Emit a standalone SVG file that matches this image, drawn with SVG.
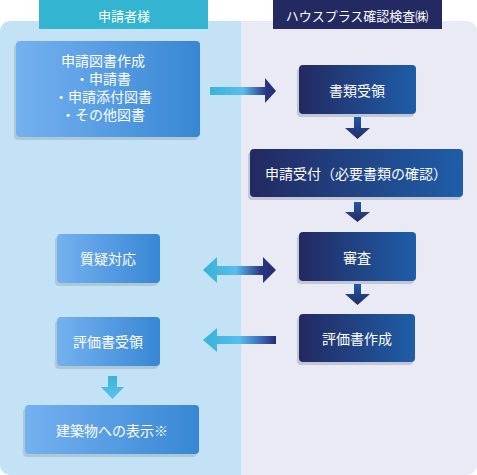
<svg xmlns="http://www.w3.org/2000/svg" width="477" height="475" viewBox="0 0 477 475">
<defs>
<linearGradient id="gLight" x1="0" y1="0" x2="1" y2="0"><stop offset="0" stop-color="#75b1f0"/><stop offset="1" stop-color="#3787d4"/></linearGradient>
<linearGradient id="gDark" x1="0" y1="0" x2="1" y2="0"><stop offset="0" stop-color="#232961"/><stop offset="1" stop-color="#1e5ea8"/></linearGradient>
<linearGradient id="gDown" x1="0" y1="0" x2="0" y2="1"><stop offset="0" stop-color="#1f5aa6"/><stop offset="1" stop-color="#232a63"/></linearGradient>
<linearGradient id="gCyanDown" x1="0" y1="0" x2="0" y2="1"><stop offset="0" stop-color="#3ab3d6"/><stop offset="1" stop-color="#5bc3ec"/></linearGradient>
<linearGradient id="gRight" gradientUnits="userSpaceOnUse" x1="210" y1="0" x2="276" y2="0"><stop offset="0" stop-color="#3ab3d6"/><stop offset="0.5" stop-color="#58bdee"/><stop offset="0.85" stop-color="#293585"/><stop offset="1" stop-color="#252c6e"/></linearGradient>
<linearGradient id="gBoth" gradientUnits="userSpaceOnUse" x1="203" y1="0" x2="276" y2="0"><stop offset="0" stop-color="#38b2d4"/><stop offset="0.45" stop-color="#58bdee"/><stop offset="0.8" stop-color="#293585"/><stop offset="1" stop-color="#252c6e"/></linearGradient>
<linearGradient id="gLeft" gradientUnits="userSpaceOnUse" x1="203" y1="0" x2="276" y2="0"><stop offset="0" stop-color="#38b2d4"/><stop offset="0.5" stop-color="#58bdee"/><stop offset="0.8" stop-color="#3a66b8"/><stop offset="1" stop-color="#252c6e"/></linearGradient>
<clipPath id="panel"><rect x="0" y="21" width="477" height="454" rx="10"/></clipPath>
</defs>
<style>
.t{font-family:"Noto Sans CJK JP","Noto Sans",sans-serif;fill:#fff;text-anchor:middle;dominant-baseline:central;font-size:14px}
.h{font-size:13px}
.shL{fill:#aec8d8}
.shR{fill:#c3c6d6}
</style>
<g id="background" clip-path="url(#panel)">
<rect x="0" y="21" width="241" height="454" fill="#c3e2f5"/>
<rect x="241" y="21" width="236" height="454" fill="#e9eaf4"/>
</g>
<g id="header-applicant">
<rect x="39" y="0" width="169" height="29" fill="#33b4d0"/>
<text class="t h" x="124" y="15">申請者様</text>
</g>
<g id="header-houseplus">
<rect x="273" y="0" width="169" height="29" fill="#232961"/>
<text class="t h" x="357" y="15">ハウスプラス確認検査㈱</text>
</g>
<g id="connectors">
<path d="M210 87H265V78L276 91L265 103V95H210Z" fill="url(#gRight)"/>
<path d="M354 117H361V128H370L357.5 139L345 128H354Z" fill="url(#gDown)"/>
<path d="M354 202H361V212H370L357.5 222L345 212H354Z" fill="url(#gDown)"/>
<path d="M354 284H361V294H370L357.5 305L345 294H354Z" fill="url(#gDown)"/>
<path d="M203 270L217 257V266H263V257L276 270L263 283V275H217V283Z" fill="url(#gBoth)"/>
<path d="M203 340L217 328V336H276V344H217V352Z" fill="url(#gLeft)"/>
<path d="M108 376H117V387H124L112.5 399L101 387H108Z" fill="url(#gCyanDown)"/>
</g>
<g id="node-create">
<rect class="shL" x="14" y="44" width="184" height="96" rx="4"/>
<rect x="16" y="41" width="184" height="96" rx="4" fill="url(#gLight)"/>
<text class="t" x="103" y="60">申請図書作成</text>
<text class="t" x="103" y="78">・申請書</text>
<text class="t" x="103" y="96">・申請添付図書</text>
<text class="t" x="103" y="114">・その他図書</text>
</g>
<g id="node-receive">
<rect class="shR" x="297" y="68" width="117" height="49" rx="4"/>
<rect x="299" y="65" width="117" height="49" rx="4" fill="url(#gDark)"/>
<text class="t" x="357" y="90">書類受領</text>
</g>
<g id="node-accept">
<rect class="shR" x="248" y="152" width="213" height="48" rx="4"/>
<rect x="250" y="149" width="213" height="48" rx="4" fill="url(#gDark)"/>
<text class="t" x="356" y="173">申請受付（必要書類の確認）</text>
</g>
<g id="node-review">
<rect class="shR" x="297" y="235" width="117" height="49" rx="4"/>
<rect x="299" y="232" width="117" height="49" rx="4" fill="url(#gDark)"/>
<text class="t" x="357" y="257">審査</text>
</g>
<g id="node-report">
<rect class="shR" x="297" y="317" width="116" height="48" rx="4"/>
<rect x="299" y="314" width="116" height="48" rx="4" fill="url(#gDark)"/>
<text class="t" x="357" y="338">評価書作成</text>
</g>
<g id="node-qa">
<rect class="shL" x="55" y="237" width="103" height="49" rx="4"/>
<rect x="57" y="234" width="103" height="49" rx="4" fill="url(#gLight)"/>
<text class="t" x="108" y="258">質疑対応</text>
</g>
<g id="node-getreport">
<rect class="shL" x="55" y="320" width="103" height="49" rx="4"/>
<rect x="57" y="317" width="103" height="49" rx="4" fill="url(#gLight)"/>
<text class="t" x="108" y="341">評価書受領</text>
</g>
<g id="node-display">
<rect class="shL" x="23" y="408" width="174" height="49" rx="4"/>
<rect x="25" y="405" width="174" height="49" rx="4" fill="url(#gLight)"/>
<text class="t" x="112" y="430">建築物への表示※</text>
</g>
</svg>
